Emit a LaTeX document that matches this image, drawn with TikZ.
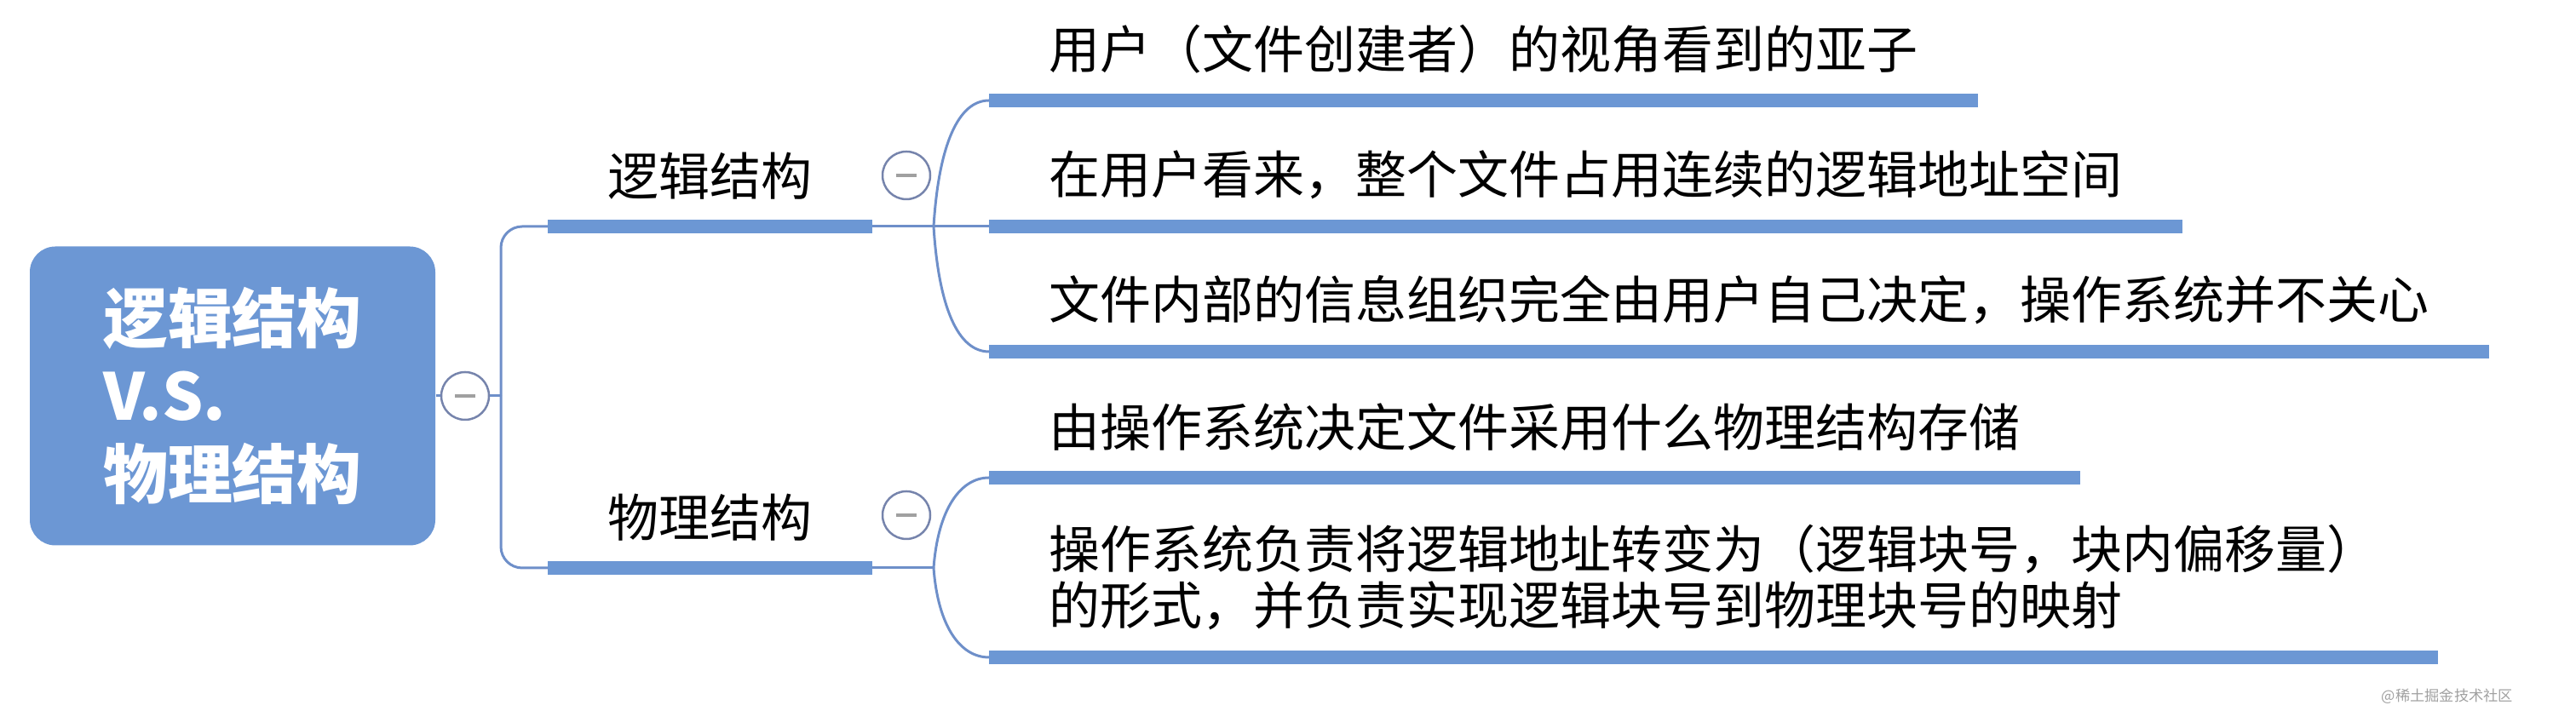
\documentclass[tikz,border=0pt]{standalone}
\usepackage{fontspec}
\setmainfont{Noto Sans CJK SC}
\usepackage{tikz}
\usetikzlibrary{positioning}
\definecolor{mapblue}{RGB}{108,151,212}
\definecolor{linkblue}{RGB}{110,143,201}
\definecolor{ringgray}{RGB}{118,132,172}
\definecolor{signgray}{RGB}{160,160,160}
\tikzstyle{rootbox}=[fill=mapblue, rounded corners=0.3cm, minimum width=4.76cm, minimum height=3.51cm, text=white, font=\fontsize{21.6}{25.9}\selectfont\bfseries, align=left]
\tikzstyle{lab}=[font=\fontsize{17.07}{19}\selectfont, inner xsep=0.7cm, inner ysep=0.31cm, anchor=south west, align=left]
\tikzstyle{bar}=[draw=mapblue, line width=0.16cm]
\tikzstyle{conn}=[draw=linkblue, line width=0.03cm]
\tikzstyle{fold}=[circle, draw=ringgray, fill=white, line width=0.025cm, minimum size=0.56cm, inner sep=0pt]
\newcommand{\foldSign}{\textcolor{signgray}{\rule{0.24cm}{0.04cm}}}

\begin{document}
\begin{tikzpicture}
          \useasboundingbox (0,0) rectangle (30.24,8.35);
          %
          \node[rootbox] (root) at (2.73,3.70) {逻辑结构\\V.S.\\物理结构};
          \node[fold] (fr) at (5.46,3.70) {\foldSign};
          \coordinate (jr) at (5.88,3.70);
          \node[lab] (lg) at (6.43,5.69) {逻辑结构};
          \node[lab] (ph) at (6.43,1.68) {物理结构};
          \node[fold] (fl) at (10.64,6.29) {\foldSign};
          \node[fold] (fp) at (10.64,2.30) {\foldSign};
          \coordinate (jl) at (10.96,5.69);
          \coordinate (jp) at (10.96,1.68);
          %
          \node[lab] (l1) at (11.61,7.17) {用户（文件创建者）的视角看到的亚子};
          \node[lab] (l2) at (11.61,5.69) {在用户看来，整个文件占用连续的逻辑地址空间};
          \node[lab] (l3) at (11.61,4.22) {文件内部的信息组织完全由用户自己决定，操作系统并不关心};
          \node[lab] (l4) at (11.61,2.74) {由操作系统决定文件采用什么物理结构存储};
          \node[lab] (l5) at (11.61,0.63) {操作系统负责将逻辑地址转变为（逻辑块号，块内偏移量）\\的形式，并负责实现逻辑块号到物理块号的映射};
          %
          \foreach \n in {lg,ph,l1,l2,l3,l4,l5}
                \draw[bar] (\n.south west) -- (\n.south east);
          \draw[conn] (root) -- (fr) -- (jr);
          \draw[conn, rounded corners=0.25cm] (jr) |- (lg.south west);
          \draw[conn, rounded corners=0.25cm] (jr) |- (ph.south west);
          \draw[conn] (lg.south east) -- (jl) -- (l2.south west);
          \draw[conn] (jl) .. controls +(0.06,0.96) and +(-0.36,0) .. (l1.south west);
          \draw[conn] (jl) .. controls +(0.06,-0.96) and +(-0.36,0) .. (l3.south west);
          \draw[conn] (ph.south east) -- (jp);
          \draw[conn] (jp) .. controls +(0.05,0.68) and +(-0.34,0) .. (l4.south west);
          \draw[conn] (jp) .. controls +(0.05,-0.68) and +(-0.34,0) .. (l5.south west);
          %
          \node[font=\fontsize{4.9}{5}\selectfont, text=signgray] (wm) at (28.73,0.17) {@稀土掘金技术社区};
\end{tikzpicture}
\end{document}
